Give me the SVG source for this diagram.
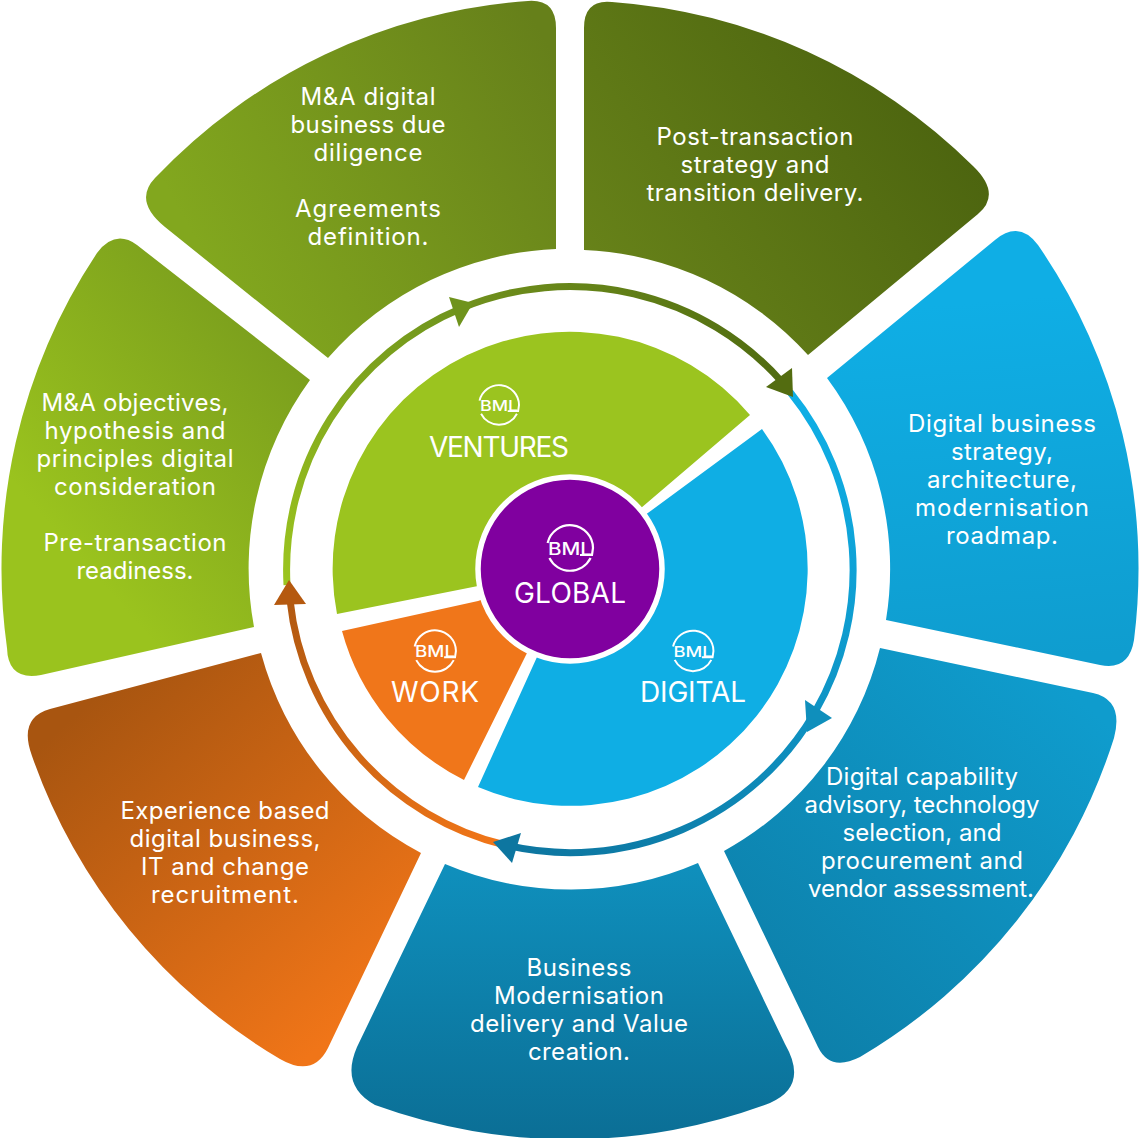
<svg xmlns="http://www.w3.org/2000/svg" width="1140" height="1138" viewBox="0 0 1140 1138">
<defs>
<style>
.t{font-family:"Inter","Open Sans","Liberation Sans",sans-serif;font-size:24px;fill:#fff;text-anchor:middle}
.w{font-family:"Inter","Lato","Liberation Sans",sans-serif;font-size:28px;fill:#fff;text-anchor:middle;font-weight:400}
.b{font-family:"Inter","Liberation Sans",sans-serif;font-size:17px;fill:#fff;text-anchor:middle;font-weight:500}
.r{fill:none;stroke:#fff;stroke-width:2.200}
.a{fill:none;stroke-width:7}
</style>
<linearGradient id="g1" gradientUnits="userSpaceOnUse" x1="640" y1="330" x2="950" y2="110"><stop offset="0" stop-color="#678219"/><stop offset="1" stop-color="#4c640f"/></linearGradient>
<linearGradient id="g2" gradientUnits="userSpaceOnUse" x1="1000" y1="300" x2="1030" y2="660"><stop offset="0" stop-color="#0faee5"/><stop offset="1" stop-color="#0f9dcf"/></linearGradient>
<linearGradient id="g3" gradientUnits="userSpaceOnUse" x1="1080" y1="700" x2="780" y2="1040"><stop offset="0" stop-color="#0f9ccd"/><stop offset="1" stop-color="#0d7fa9"/></linearGradient>
<linearGradient id="g4" gradientUnits="userSpaceOnUse" x1="575" y1="870" x2="575" y2="1135"><stop offset="0" stop-color="#0f8fbc"/><stop offset="1" stop-color="#0b6f96"/></linearGradient>
<linearGradient id="g5" gradientUnits="userSpaceOnUse" x1="70" y1="720" x2="340" y2="1030"><stop offset="0" stop-color="#a85510"/><stop offset="1" stop-color="#f07518"/></linearGradient>
<linearGradient id="g6" gradientUnits="userSpaceOnUse" x1="300" y1="380" x2="50" y2="600"><stop offset="0" stop-color="#7ca01d"/><stop offset=".85" stop-color="#9ac31e"/></linearGradient>
<linearGradient id="g7" gradientUnits="userSpaceOnUse" x1="190" y1="230" x2="540" y2="30"><stop offset="0" stop-color="#82a71e"/><stop offset="1" stop-color="#66801a"/></linearGradient>
<linearGradient id="ag" gradientUnits="userSpaceOnUse" x1="287" y1="580" x2="470" y2="310"><stop offset="0" stop-color="#9bc41f"/><stop offset="1" stop-color="#6f931c"/></linearGradient>
<linearGradient id="ad" gradientUnits="userSpaceOnUse" x1="470" y1="310" x2="790" y2="390"><stop offset="0" stop-color="#6f8f1c"/><stop offset="1" stop-color="#4f6a10"/></linearGradient>
<linearGradient id="ab" gradientUnits="userSpaceOnUse" x1="793" y1="397" x2="520" y2="850"><stop offset="0" stop-color="#0faee5"/><stop offset="1" stop-color="#0d76a0"/></linearGradient>
<linearGradient id="ao" gradientUnits="userSpaceOnUse" x1="495" y1="842" x2="289" y2="590"><stop offset="0" stop-color="#f07518"/><stop offset="1" stop-color="#b05810"/></linearGradient>
</defs>
<rect width="1140" height="1138" fill="#fff"/>

<g id="segment-post-transaction">
<path fill="url(#g1)" d="M584 250L584 28Q584 -1 612 2A570 570 0 0 1 973 166Q1002 194 978 214L808 355A320 320 0 0 0 584 250Z"/>
<text class="t" x="755" y="145" textLength="197">Post-transaction</text>
<text class="t" x="755" y="173" textLength="149">strategy and</text>
<text class="t" x="755" y="201" textLength="217">transition delivery.</text>
</g>
<g id="segment-digital-strategy">
<path fill="url(#g2)" d="M827 378L995 240Q1019 220 1038 245A570 570 0 0 1 1134 640Q1129 671 1100 665L886 620A320 320 0 0 0 827 378Z"/>
<text class="t" x="1002" y="432" textLength="188">Digital business</text>
<text class="t" x="1002" y="460" textLength="102">strategy,</text>
<text class="t" x="1002" y="488" textLength="150">architecture,</text>
<text class="t" x="1002" y="516" textLength="174">modernisation</text>
<text class="t" x="1002" y="544" textLength="112">roadmap.</text>
</g>
<g id="segment-digital-capability">
<path fill="url(#g3)" d="M880 648L1093 693Q1124 700 1114 738A570 570 0 0 1 860 1057Q830 1072 818 1047L724 851A320 320 0 0 0 880 648Z"/>
<text class="t" x="922" y="785" textLength="192">Digital capability</text>
<text class="t" x="922" y="813" textLength="235">advisory, technology</text>
<text class="t" x="922" y="841" textLength="159">selection, and</text>
<text class="t" x="922" y="869" textLength="202">procurement and</text>
<text class="t" x="921" y="897" textLength="226">vendor assessment.</text>
</g>
<g id="segment-modernisation">
<path fill="url(#g4)" d="M698 863L785 1044Q809 1086 770 1103A570 570 0 0 1 375 1105Q340 1086 357 1047L445 864A320 320 0 0 0 698 863Z"/>
<text class="t" x="579" y="976" textLength="105">Business</text>
<text class="t" x="579" y="1004" textLength="170">Modernisation</text>
<text class="t" x="579" y="1032" textLength="218">delivery and Value</text>
<text class="t" x="579" y="1060" textLength="102">creation.</text>
</g>
<g id="segment-recruitment">
<path fill="url(#g5)" d="M421 853L328 1048Q313 1078 280 1059A570 570 0 0 1 32 756Q18 718 50 709L261 653A320 320 0 0 0 421 853Z"/>
<text class="t" x="225" y="819" textLength="209">Experience based</text>
<text class="t" x="225" y="847" textLength="191">digital business,</text>
<text class="t" x="225" y="875" textLength="168">IT and change</text>
<text class="t" x="225" y="903" textLength="148">recruitment.</text>
</g>
<g id="segment-objectives">
<path fill="url(#g6)" d="M254 627L41 675Q8 681 7 648A570 570 0 0 1 97 253Q115 229 137 245L310 380A320 320 0 0 0 254 627Z"/>
<text class="t" x="135" y="411" textLength="187">M&amp;A objectives,</text>
<text class="t" x="135" y="439" textLength="181">hypothesis and</text>
<text class="t" x="135" y="467" textLength="197">principles digital</text>
<text class="t" x="135" y="495" textLength="162">consideration</text>
<text class="t" x="135" y="551" textLength="183">Pre-transaction</text>
<text class="t" x="135" y="579" textLength="117">readiness.</text>
</g>
<g id="segment-due-diligence">
<path fill="url(#g7)" d="M328 358L165 227Q133 201 155 178A570 570 0 0 1 528 1Q556 -1 556 28L556 249A320 320 0 0 0 328 358Z"/>
<text class="t" x="368" y="105" textLength="135">M&amp;A digital</text>
<text class="t" x="368" y="133" textLength="155">business due</text>
<text class="t" x="368" y="161" textLength="109">diligence</text>
<text class="t" x="368" y="217" textLength="146">Agreements</text>
<text class="t" x="368" y="245" textLength="121">definition.</text>
</g>

<g id="connectors">
<path class="a" stroke="url(#ag)" d="M287 585A283 283 0 0 1 462 308"/>
<path class="a" stroke="url(#ad)" d="M462 308A283 283 0 0 1 782 382"/>
<path class="a" stroke="url(#ab)" d="M790 392A283 283 0 0 1 815 712"/>
<path class="a" stroke="url(#ab)" d="M815 712A283 283 0 0 1 505 845"/>
<path class="a" stroke="url(#ao)" d="M505 845A283 283 0 0 1 290 600"/>
<polygon fill="#6f931c" points="473,303 449,297 459,327"/>
<polygon fill="#536c10" points="793,397 792,368 766,387"/>
<polygon fill="#0f8fbc" points="832,718 805,700 807,732"/>
<polygon fill="#0d76a0" points="493,842 521,833 512,863"/>
<polygon fill="#b5590f" points="289,580 274,605 306,604"/>
</g>

<g id="ventures">
<path fill="#9bc41f" d="M337 614A237 237 0 0 1 750 415L641 508L570 569L478 586Z"/>
<g transform="translate(499 405) scale(.87)">
<path class="r" d="M-22.400 -5A23 23 0 0 1 23 0L22 7L10 7M20.600 10A23 23 0 0 1 -20.600 10"/>
<text class="b" x="0" y="7" textLength="44" lengthAdjust="spacingAndGlyphs">BML</text>
</g>
<text class="w" x="499" y="457" textLength="140">VENTURES</text>
</g>
<g id="digital">
<path fill="#0faee4" d="M762 429A237 237 0 0 1 478 787L537 657L570 569L652 510Z"/>
<g transform="translate(693 651) scale(.89)">
<path class="r" d="M-22.400 -5A23 23 0 0 1 23 0L22 7L10 7M20.600 10A23 23 0 0 1 -20.600 10"/>
<text class="b" x="0" y="7" textLength="44" lengthAdjust="spacingAndGlyphs">BML</text>
</g>
<text class="w" x="693" y="702" textLength="106">DIGITAL</text>
</g>
<g id="work">
<path fill="#f0761a" d="M342 631L478 601L570 569L526 655L464 780A236 236 0 0 1 342 631Z"/>
<g transform="translate(435 651) scale(.91)">
<path class="r" d="M-22.400 -5A23 23 0 0 1 23 0L22 7L10 7M20.600 10A23 23 0 0 1 -20.600 10"/>
<text class="b" x="0" y="7" textLength="44" lengthAdjust="spacingAndGlyphs">BML</text>
</g>
<text class="w" x="435" y="702" textLength="88">WORK</text>
</g>
<g id="global">
<circle cx="570" cy="569" r="92" fill="#80009f" stroke="#fff" stroke-width="5.500"/>
<g transform="translate(570 548)">
<path class="r" d="M-22.400 -5A23 23 0 0 1 23 0L22 7L10 7M20.600 10A23 23 0 0 1 -20.600 10"/>
<text class="b" x="0" y="7" textLength="44" lengthAdjust="spacingAndGlyphs">BML</text>
</g>
<text class="w" x="570" y="603" textLength="112">GLOBAL</text>
</g>
</svg>
